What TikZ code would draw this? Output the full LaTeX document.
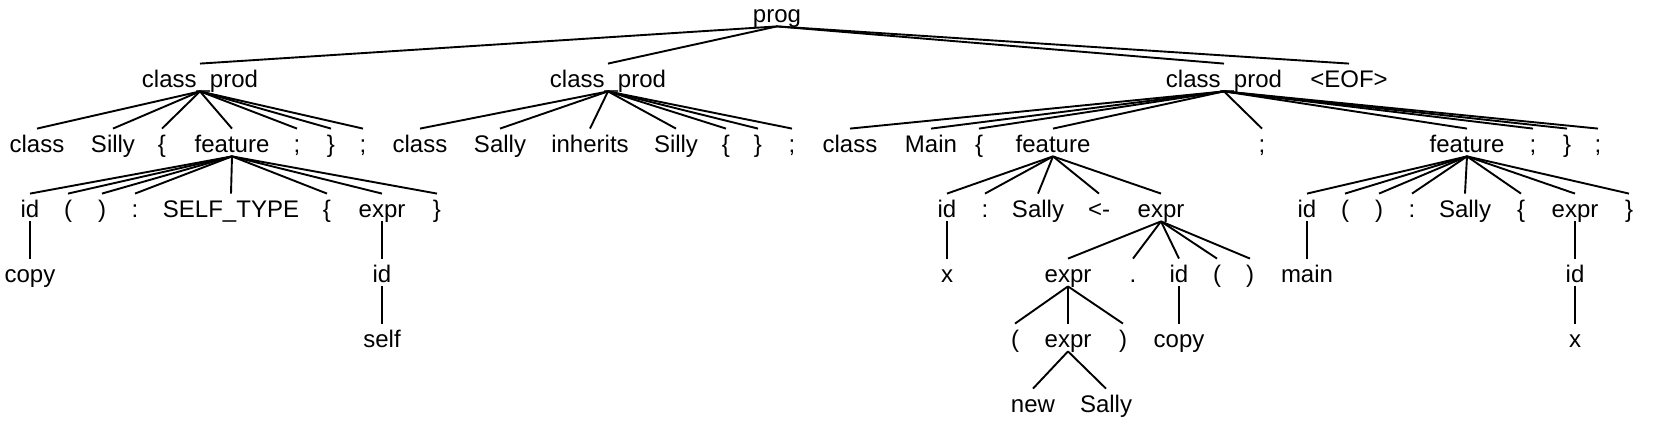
\documentclass[tikz,border=0pt]{standalone}
\usepackage{fontspec}
\setmainfont{Liberation Sans}
\begin{document}
\begin{tikzpicture}[x=0.5pt,y=-0.5pt,
  t/.style={inner sep=0pt, text height=11.8pt, text depth=1.7pt, font=\fontsize{12}{14}\selectfont},
  e/.style={line width=0.95pt}]
\useasboundingbox (0,0) rectangle (1656,442);
% row 0
\node[t] (prog) at (777,12.5) {prog};
% row 1
\node[t] (cpA) at (200,77.5) {class\_prod};
\node[t] (cpB) at (608,77.5) {class\_prod};
\node[t] (cpC) at (1224,77.5) {class\_prod};
\node[t] (eof) at (1349,77.5) {<EOF>};
% row 2
\node[t] (aclass) at (37,142.5) {class};
\node[t] (asilly) at (113,142.5) {Silly};
\node[t] (alb) at (162,142.5) {\{};
\node[t] (afeat) at (232,142.5) {feature};
\node[t] (asemi) at (297,142.5) {;};
\node[t] (arb) at (331,142.5) {\}};
\node[t] (asemiB) at (363,142.5) {;};
\node[t] (bclass) at (420,142.5) {class};
\node[t] (bsally) at (500,142.5) {Sally};
\node[t] (binh) at (590,142.5) {inherits};
\node[t] (bsilly) at (676,142.5) {Silly};
\node[t] (blb) at (726,142.5) {\{};
\node[t] (brb) at (758,142.5) {\}};
\node[t] (bsemi) at (792,142.5) {;};
\node[t] (cclass) at (850,142.5) {class};
\node[t] (cmain) at (931,142.5) {Main};
\node[t] (clb) at (979,142.5) {\{};
\node[t] (cfeatA) at (1053,142.5) {feature};
\node[t] (csemiA) at (1262,142.5) {;};
\node[t] (cfeatB) at (1467,142.5) {feature};
\node[t] (csemiB) at (1533,142.5) {;};
\node[t] (crb) at (1567,142.5) {\}};
\node[t] (csemiC) at (1598,142.5) {;};
% row 3
\node[t] (fAid) at (30,207.5) {id};
\node[t] (fAlp) at (68,207.5) {(};
\node[t] (fArp) at (102,207.5) {)};
\node[t] (fAcol) at (135,207.5) {:};
\node[t] (fAself) at (231,207.5) {SELF\_TYPE};
\node[t] (fAlb) at (327,207.5) {\{};
\node[t] (fAexpr) at (382,207.5) {expr};
\node[t] (fArb) at (437,207.5) {\}};
\node[t] (fBid) at (947,207.5) {id};
\node[t] (fBcol) at (985,207.5) {:};
\node[t] (fBsally) at (1038,207.5) {Sally};
\node[t] (fBarrow) at (1099,207.5) {<-};
\node[t] (fBexpr) at (1161,207.5) {expr};
\node[t] (fCid) at (1307,207.5) {id};
\node[t] (fClp) at (1345,207.5) {(};
\node[t] (fCrp) at (1379,207.5) {)};
\node[t] (fCcol) at (1412,207.5) {:};
\node[t] (fCsally) at (1465,207.5) {Sally};
\node[t] (fClb) at (1521,207.5) {\{};
\node[t] (fCexpr) at (1575,207.5) {expr};
\node[t] (fCrb) at (1629,207.5) {\}};
% row 4
\node[t] (gcopy) at (30,272.5) {copy};
\node[t] (gid) at (382,272.5) {id};
\node[t] (gx) at (947,272.5) {x};
\node[t] (gexpr) at (1068,272.5) {expr};
\node[t] (gdot) at (1133,272.5) {.};
\node[t] (gidB) at (1179,272.5) {id};
\node[t] (glp) at (1217,272.5) {(};
\node[t] (grp) at (1250,272.5) {)};
\node[t] (gmain) at (1307,272.5) {main};
\node[t] (gidC) at (1575,272.5) {id};
% row 5
\node[t] (hself) at (382,337.5) {self};
\node[t] (hlp) at (1015,337.5) {(};
\node[t] (hexpr) at (1068,337.5) {expr};
\node[t] (hrp) at (1123,337.5) {)};
\node[t] (hcopy) at (1179,337.5) {copy};
\node[t] (hx) at (1575,337.5) {x};
% row 6
\node[t] (knew) at (1033,402.5) {new};
\node[t] (ksally) at (1106,402.5) {Sally};
% edges
\foreach \c in {cpA,cpB,cpC,eof} \draw[e] (prog.south) -- (\c.north);
\foreach \c in {aclass,asilly,alb,afeat,asemi,arb,asemiB} \draw[e] (cpA.south) -- (\c.north);
\foreach \c in {bclass,bsally,binh,bsilly,blb,brb,bsemi} \draw[e] (cpB.south) -- (\c.north);
\foreach \c in {cclass,cmain,clb,cfeatA,csemiA,cfeatB,csemiB,crb,csemiC} \draw[e] (cpC.south) -- (\c.north);
\foreach \c in {fAid,fAlp,fArp,fAcol,fAself,fAlb,fAexpr,fArb} \draw[e] (afeat.south) -- (\c.north);
\foreach \c in {fBid,fBcol,fBsally,fBarrow,fBexpr} \draw[e] (cfeatA.south) -- (\c.north);
\foreach \c in {fCid,fClp,fCrp,fCcol,fCsally,fClb,fCexpr,fCrb} \draw[e] (cfeatB.south) -- (\c.north);
\draw[e] (fAid.south) -- (gcopy.north);
\draw[e] (fAexpr.south) -- (gid.north);
\draw[e] (gid.south) -- (hself.north);
\draw[e] (fBid.south) -- (gx.north);
\foreach \c in {gexpr,gdot,gidB,glp,grp} \draw[e] (fBexpr.south) -- (\c.north);
\foreach \c in {hlp,hexpr,hrp} \draw[e] (gexpr.south) -- (\c.north);
\draw[e] (gidB.south) -- (hcopy.north);
\foreach \c in {knew,ksally} \draw[e] (hexpr.south) -- (\c.north);
\draw[e] (fCid.south) -- (gmain.north);
\draw[e] (fCexpr.south) -- (gidC.north);
\draw[e] (gidC.south) -- (hx.north);
\end{tikzpicture}
\end{document}
